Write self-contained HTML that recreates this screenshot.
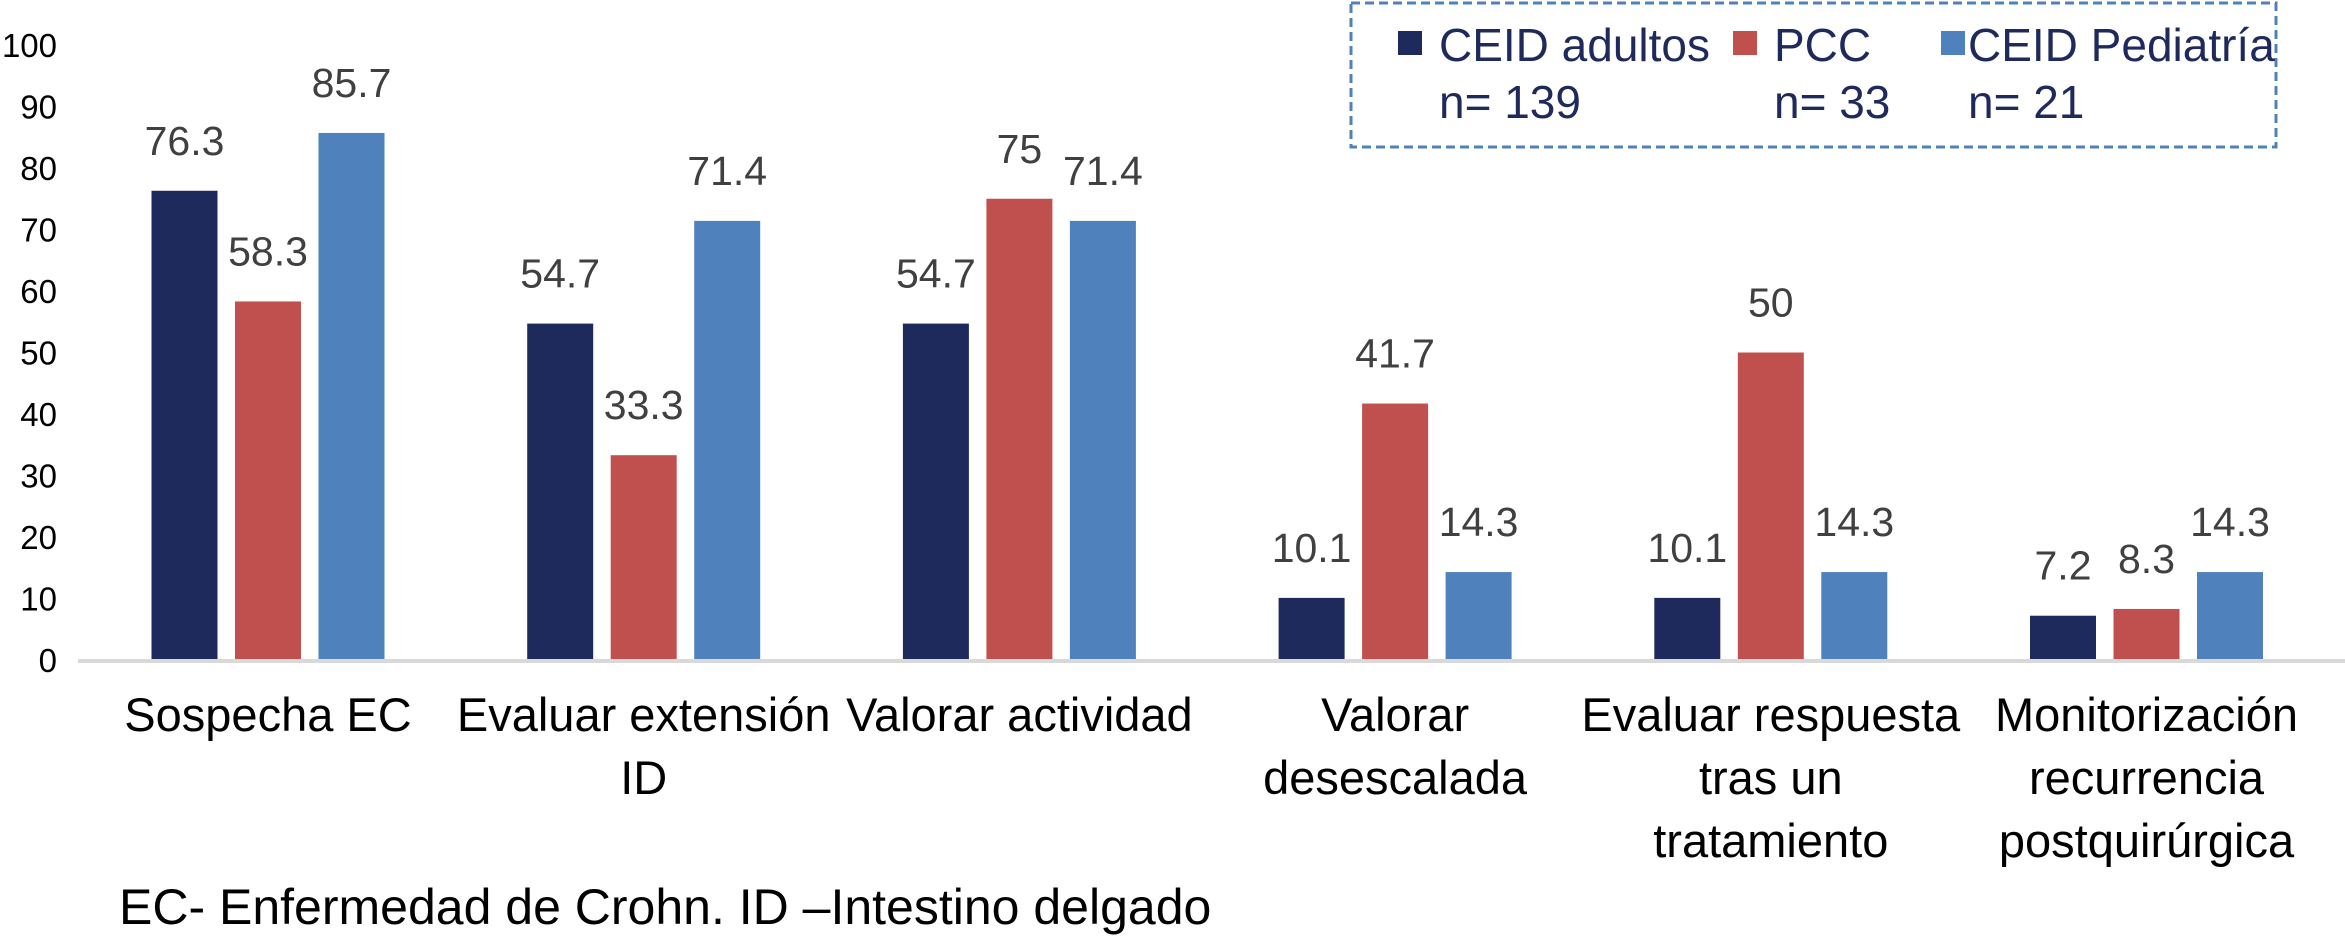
<!DOCTYPE html>
<html><head><meta charset="utf-8"><style>
html,body{margin:0;padding:0;background:#fff;}
svg{display:block;font-family:"Liberation Sans",sans-serif;}
</style></head><body>
<svg id="chart" width="2345" height="938" viewBox="0 0 2345 938" xmlns="http://www.w3.org/2000/svg">
<g id="yaxis"></g>
<g id="bars"></g>
<line x1="78" y1="661" x2="2345" y2="661" stroke="#d9d9d9" stroke-width="4"/>
<g id="xlabels"></g>
<g>
<rect x="1351" y="3" width="925" height="144" fill="none" stroke="#4f81bd" stroke-width="3" stroke-dasharray="9,5"/>
<rect x="1398" y="31" width="24" height="24" fill="#1f2a5c"/>
<text x="1439" y="61" font-size="46" fill="#1f2a5c">CEID adultos</text>
<text x="1439" y="118" font-size="46" fill="#1f2a5c">n= 139</text>
<rect x="1733" y="31" width="24" height="24" fill="#c0504d"/>
<text x="1774" y="61" font-size="46" fill="#1f2a5c">PCC</text>
<text x="1774" y="118" font-size="46" fill="#1f2a5c">n= 33</text>
<rect x="1941" y="31" width="24" height="24" fill="#4f81bd"/>
<text x="1968" y="61" font-size="46" fill="#1f2a5c">CEID Pediatría</text>
<text x="1968" y="118" font-size="46" fill="#1f2a5c">n= 21</text>
</g>
<text x="119" y="924" font-size="50" fill="#000">EC- Enfermedad de Crohn. ID –Intestino delgado</text>
</svg>
<script>
const categories = [["Sospecha EC"],["Evaluar extensión","ID"],["Valorar actividad"],["Valorar","desescalada"],["Evaluar respuesta","tras un","tratamiento"],["Monitorización","recurrencia","postquirúrgica"]];
const adultos = [76.3, 54.7, 54.7, 10.1, 10.1, 7.2];
const pcc = [58.3, 33.3, 75, 41.7, 50, 8.3];
const pediatria = [85.7, 71.4, 71.4, 14.3, 14.3, 14.3];
const yTicks = [0,10,20,30,40,50,60,70,80,90,100];

const NS = "http://www.w3.org/2000/svg";
const series = [adultos, pcc, pediatria];
const colors = ["#1f2a5c", "#c0504d", "#4f81bd"];
const y = v => 660 - v * 6.15;
const xc = i => 268 + i * 375.7;
const barW = 66, step = 83.5;

function mk(tag, attrs, parent, txt) {
  const e = document.createElementNS(NS, tag);
  for (const k in attrs) e.setAttribute(k, attrs[k]);
  if (txt !== undefined) e.textContent = txt;
  parent.appendChild(e);
  return e;
}
const ya = document.getElementById('yaxis');
yTicks.forEach(t => {
  const e = mk('text', {x: 57, y: y(t) + 12, 'font-size': 33, 'text-anchor': 'end', fill: '#000'}, ya, String(t));
  
  
});
const bg = document.getElementById('bars');
categories.forEach((c, i) => {
  series.forEach((s, j) => {
    const cx = xc(i) + (j - 1) * step;
    const r = mk('rect', {x: cx - barW / 2, y: y(s[i]), width: barW, height: 660 - y(s[i]), fill: colors[j]}, bg);
    
    
    const l = mk('text', {x: cx, y: y(s[i]) - 36, 'font-size': 41, 'text-anchor': 'middle', fill: '#404040'}, bg, String(s[i]));
    
    
  });
});
const xl = document.getElementById('xlabels');
categories.forEach((c, i) => {
  c.forEach((line, k) => {
    const t = mk('text', {x: xc(i), y: 731 + k * 63, 'font-size': 47, 'text-anchor': 'middle', fill: '#000'}, xl, line);
    
    
  });
});
</script>
</body></html>
